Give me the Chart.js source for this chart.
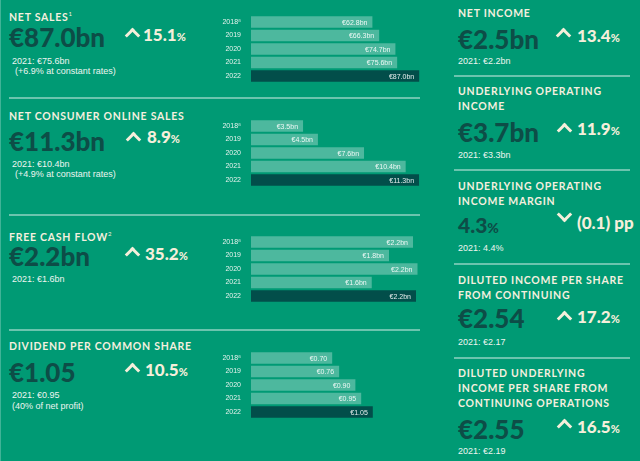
<!DOCTYPE html>
<html>
<head>
<meta charset="utf-8">
<script src="https://cdn.jsdelivr.net/npm/chart.js@4.4.0/dist/chart.umd.min.js"></script>
<style>
  body { margin: 0; width: 640px; height: 461px; background: #009a74; overflow: hidden; position: relative; font-family: Lato, sans-serif; }
  .t { position: absolute; color: #f4efdf; font-weight: 700; font-size: 10.5px; line-height: 15px; letter-spacing: 0.75px; white-space: nowrap; }
  .t sup { font-size: 6px; vertical-align: 5px; font-weight: 400; }
  .big { position: absolute; color: #0d4d47; font-weight: 900; font-size: 26px; line-height: 26px; white-space: nowrap; }
  .pct { position: absolute; color: #f5efdb; font-weight: 900; font-size: 17px; line-height: 17px; white-space: nowrap; }
  .pct small { font-size: 11px; }
  .sub { position: absolute; color: #eef5f0; font-family: 'Liberation Sans', Arial, sans-serif; font-size: 9px; line-height: 10px; white-space: nowrap; }
  .chev { position: absolute; width: 8px; height: 8px; border-left: 3px solid #f5efdb; border-top: 3px solid #f5efdb; transform: rotate(45deg); }
  .chev.down { transform: rotate(225deg); }
  .hr { position: absolute; height: 2px; background: rgba(255,255,255,0.42); }
  .bars { position: absolute; left: 220px; width: 205px; height: 80px; }
</style>
</head>
<body>
<div class="hr" style="left:0;top:0;width:1px;height:461px;background:rgba(255,255,255,0.25)"></div>

<!-- colonna sinistra -->
<div class="t" style="left:9px;top:6px">NET SALES<sup>1</sup></div>
<div class="big" style="left:9px;top:24px">€87.0bn</div>
<div class="chev" style="left:127px;top:30px"></div>
<div class="pct" style="left:143px;top:26px">15.1<small>%</small></div>
<div class="sub" style="left:12px;top:56px">2021: €75.6bn</div>
<div class="sub" style="left:15px;top:66px">(+6.9% at constant rates)</div>
<div class="hr" style="left:9px;top:97px;width:411px"></div>

<div class="t" style="left:9px;top:109px">NET CONSUMER ONLINE SALES</div>
<div class="big" style="left:9px;top:128px">€11.3bn</div>
<div class="chev" style="left:128px;top:134px"></div>
<div class="pct" style="left:147px;top:128px">8.9<small>%</small></div>
<div class="sub" style="left:12px;top:159px">2021: €10.4bn</div>
<div class="sub" style="left:15px;top:169px">(+4.9% at constant rates)</div>
<div class="hr" style="left:9px;top:214px;width:411px"></div>

<div class="t" style="left:9px;top:226px">FREE CASH FLOW<sup>2</sup></div>
<div class="big" style="left:9px;top:243px">€2.2bn</div>
<div class="chev" style="left:127px;top:249px"></div>
<div class="pct" style="left:145px;top:245px">35.2<small>%</small></div>
<div class="sub" style="left:12px;top:274px">2021: €1.6bn</div>
<div class="hr" style="left:9px;top:329px;width:411px"></div>

<div class="t" style="left:9px;top:339px">DIVIDEND PER COMMON SHARE</div>
<div class="big" style="left:9px;top:359px">€1.05</div>
<div class="chev" style="left:127px;top:365px"></div>
<div class="pct" style="left:145px;top:361px">10.5<small>%</small></div>
<div class="sub" style="left:12px;top:390px">2021: €0.95</div>
<div class="sub" style="left:12px;top:401px">(40% of net profit)</div>

<!-- colonna destra -->
<div class="t" style="left:458px;top:6px">NET INCOME</div>
<div class="big" style="left:458px;top:26px">€2.5bn</div>
<div class="chev" style="left:558px;top:30px"></div>
<div class="pct" style="left:577px;top:27px">13.4<small>%</small></div>
<div class="sub" style="left:458px;top:56px">2021: €2.2bn</div>
<div class="hr" style="left:454px;top:75px;width:176px"></div>

<div class="t" style="left:458px;top:84px">UNDERLYING OPERATING<br>INCOME</div>
<div class="big" style="left:458px;top:119px">€3.7bn</div>
<div class="chev" style="left:559px;top:125px"></div>
<div class="pct" style="left:577px;top:120px">11.9<small>%</small></div>
<div class="sub" style="left:458px;top:150px">2021: €3.3bn</div>
<div class="hr" style="left:454px;top:169px;width:176px"></div>

<div class="t" style="left:458px;top:179px">UNDERLYING OPERATING<br>INCOME MARGIN</div>
<div class="big" style="left:458px;top:214px;font-size:21px;line-height:21px">4.3<small style="font-size:14px">%</small></div>
<div class="chev down" style="left:559px;top:209px"></div>
<div class="pct" style="left:577px;top:214px">(0.1) pp</div>
<div class="sub" style="left:458px;top:243px">2021: 4.4%</div>
<div class="hr" style="left:454px;top:263px;width:176px"></div>

<div class="t" style="left:458px;top:273px">DILUTED INCOME PER SHARE<br>FROM CONTINUING</div>
<div class="big" style="left:458px;top:305px">€2.54</div>
<div class="chev" style="left:559px;top:313px"></div>
<div class="pct" style="left:577px;top:308px">17.2<small>%</small></div>
<div class="sub" style="left:458px;top:337px">2021: €2.17</div>
<div class="hr" style="left:454px;top:357px;width:176px"></div>

<div class="t" style="left:458px;top:366px">DILUTED UNDERLYING<br>INCOME PER SHARE FROM<br>CONTINUING OPERATIONS</div>
<div class="big" style="left:458px;top:416px">€2.55</div>
<div class="chev" style="left:559px;top:421px"></div>
<div class="pct" style="left:577px;top:418px">16.5<small>%</small></div>
<div class="sub" style="left:458px;top:446px">2021: €2.19</div>

<!-- grafici a barre -->
<div class="bars" style="top:9px"><canvas id="chartSales"></canvas></div>
<div class="bars" style="top:113px"><canvas id="chartOnline"></canvas></div>
<div class="bars" style="top:229px"><canvas id="chartCash"></canvas></div>
<div class="bars" style="top:345px"><canvas id="chartDividend"></canvas></div>

<script>
// Anni (etichette asse y)
const years = ['2018⁸', '2019', '2020', '2021', '2022'];

// Valori
const netSales = [62.8, 66.3, 74.7, 75.6, 87.0];
const onlineSales = [3.5, 4.5, 7.6, 10.4, 11.3];
const freeCashFlow = [2.16, 1.84, 2.22, 1.61, 2.2];
const dividend = [0.70, 0.76, 0.90, 0.95, 1.05];

// Colori
const lightBar = 'rgba(255, 255, 255, 0.3)';
const darkBar = '#024e4a';

function barChart(id, values, max, fmt) {
    const ctx = document.getElementById(id).getContext('2d');

    // etichette dentro le barre
    const valueLabels = {
        id: 'valueLabels',
        afterDatasetsDraw(chart) {
            const c = chart.ctx;
            const meta = chart.getDatasetMeta(0);
            c.save();
            c.font = '7px "Liberation Sans", Arial';
            c.fillStyle = 'rgba(255, 255, 255, 0.9)';
            c.textAlign = 'right';
            c.textBaseline = 'middle';
            meta.data.forEach((bar, i) => {
                c.fillText(fmt(values[i]), bar.x - 5, bar.y + 1);
            });
            c.restore();
        }
    };

    new Chart(ctx, {
        type: 'bar',
        data: {
            labels: years,
            datasets: [{
                data: values,
                backgroundColor: values.map((v, i) => i === values.length - 1 ? darkBar : lightBar),
                borderWidth: 0,
                barPercentage: 0.85,
                categoryPercentage: 1
            }]
        },
        options: {
            indexAxis: 'y',
            responsive: true,
            maintainAspectRatio: false,
            animation: false,
            layout: { padding: 0 },
            plugins: {
                legend: { display: false },
                tooltip: { enabled: false }
            },
            scales: {
                x: { display: false, min: 0, max: max },
                y: {
                    grid: { display: false },
                    border: { display: false },
                    ticks: {
                        color: '#e6f3ee',
                        font: { family: 'Liberation Sans', size: 7 },
                        padding: 2
                    },
                    afterFit: (axis) => { axis.width = 31; }
                }
            }
        },
        plugins: [valueLabels]
    });
}

barChart('chartSales', netSales, 90, v => '€' + v.toFixed(1) + 'bn');
barChart('chartOnline', onlineSales, 11.7, v => '€' + v.toFixed(1) + 'bn');
barChart('chartCash', freeCashFlow, 2.32, v => '€' + v.toFixed(1) + 'bn');
barChart('chartDividend', dividend, 1.5, v => '€' + v.toFixed(2));
</script>
</body>
</html>
